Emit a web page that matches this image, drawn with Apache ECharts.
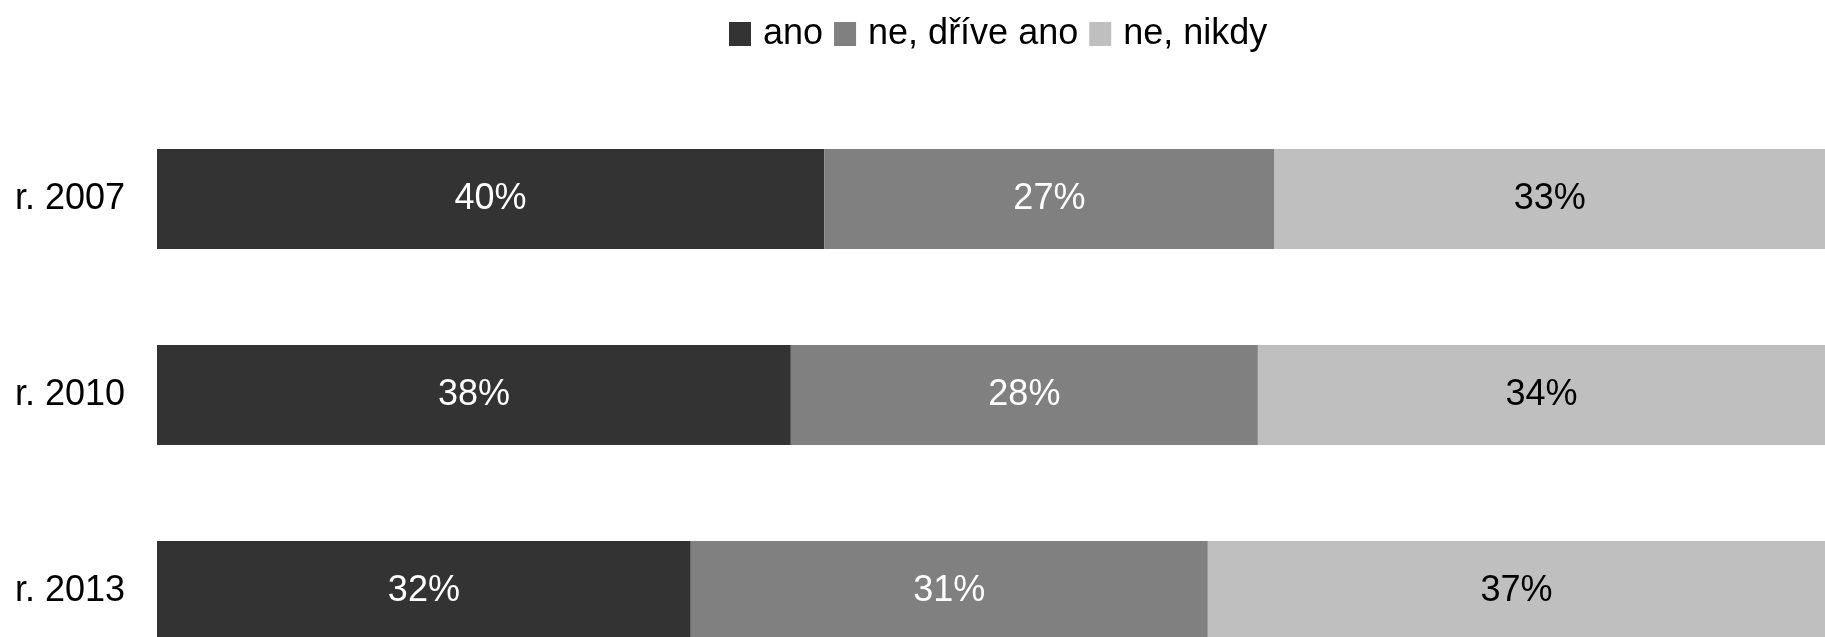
<!DOCTYPE html>
<html><head><meta charset="utf-8">
<script src="https://cdn.jsdelivr.net/npm/echarts@6/dist/echarts.min.js"></script>
<style>html,body{margin:0;padding:0;background:#fff}#c{width:1825px;height:637px}</style>
</head><body><div id="c"></div>
<script>
const categories = ['r. 2007', 'r. 2010', 'r. 2013'];
const seriesNames = ['ano', 'ne, dříve ano', 'ne, nikdy'];
const ano = [40, 38, 32];
const driveAno = [27, 28, 31];
const nikdy = [33, 34, 37];
const colors = ['#333333', '#808080', '#bfbfbf'];
const labelColors = ['#ffffff', '#ffffff', '#000000'];
const FONT = "'Liberation Sans', Arial, sans-serif";
const FS = 36;
const values = [ano, driveAno, nikdy];

const chart = echarts.init(document.getElementById('c'));
chart.setOption({
  animation: false,
  textStyle: { fontFamily: FONT },
  legend: {
    top: 11, left: 724,
    itemWidth: 22, itemHeight: 24, itemGap: 11,
    icon: 'rect',
    textStyle: { fontFamily: FONT, fontSize: FS, color: '#000', padding: [0, 0, 0, 7] },
    data: seriesNames
  },
  grid: { left: 157, right: 0, top: 101, height: 588, containLabel: false, outerBoundsMode: 'none' },
  xAxis: { type: 'value', min: 0, max: 100, show: false },
  yAxis: {
    type: 'category', data: categories, inverse: true,
    axisLine: { show: false }, axisTick: { show: false },
    axisLabel: { fontFamily: FONT, fontSize: FS, color: '#000', margin: 32 }
  },
  series: seriesNames.map((n, i) => ({
    name: n, type: 'bar', stack: 'total', barWidth: 100,
    data: values[i],
    itemStyle: { color: colors[i] },
    label: { show: true, position: 'inside', formatter: '{c}%', fontFamily: FONT, fontSize: FS, color: labelColors[i] }
  }))
});
</script></body></html>
